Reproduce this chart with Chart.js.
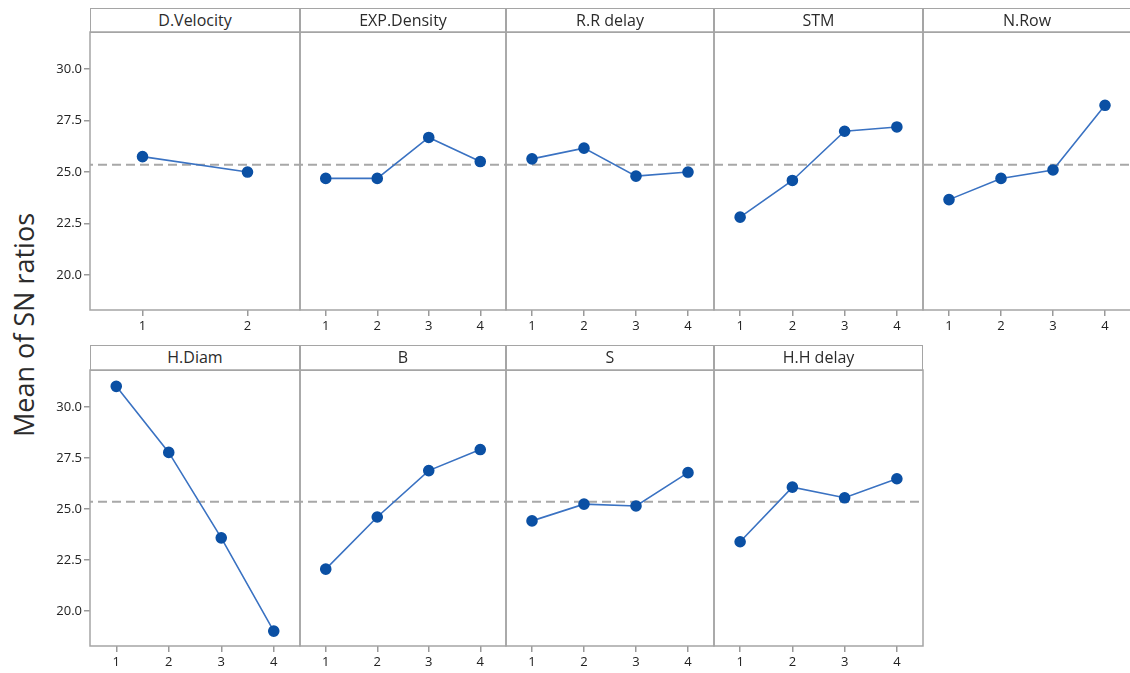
<!DOCTYPE html>
<html>
<head>
<meta charset="utf-8">
<script src="https://cdn.jsdelivr.net/npm/chart.js@4.4.1/dist/chart.umd.min.js"></script>
<style>
    body {
        margin: 0;
        width: 1130px;
        height: 673px;
        overflow: hidden;
        position: relative;
        background: #fff;
        font-family: "Open Sans", sans-serif;
    }
    .cabecera {
        position: absolute;
        box-sizing: border-box;
        border: 1.5px solid #a5a5a5;
        text-align: center;
        font-size: 16px;
        color: #2b2b2b;
        line-height: 22px;
    }
    canvas { position: absolute; }
    #titulo-y {
        position: absolute;
        left: 23px;
        top: 325px;
        transform: translate(-50%, -50%) rotate(-90deg);
        white-space: nowrap;
        font-size: 27px;
        color: #2b2b2b;
    }
</style>
</head>
<body>
<div id="titulo-y">Mean of SN ratios</div>

<script>
// Factores y niveles
const factores = ["D.Velocity", "EXP.Density", "R.R delay", "STM", "N.Row", "H.Diam", "B", "S", "H.H delay"];
const niveles2 = ["1", "2"];
const niveles4 = ["1", "2", "3", "4"];

// Medias de SN por nivel
const dVelocity = [25.75, 25.00];
const expDensity = [24.69, 24.69, 26.68, 25.51];
const rrDelay = [25.64, 26.16, 24.80, 25.00];
const stm = [22.81, 24.59, 26.98, 27.19];
const nRow = [23.66, 24.69, 25.10, 28.24];
const hDiam = [31.00, 27.77, 23.59, 19.03];
const bVals = [22.06, 24.61, 26.88, 27.91];
const sVals = [24.42, 25.24, 25.15, 26.78];
const hhDelay = [23.40, 26.07, 25.55, 26.48];

// Eje Y y media global
const ticksY = [20.0, 22.5, 25.0, 27.5, 30.0];
const mediaSN = 25.35;
const yMin = 18.3;
const yMax = 31.8;

const series = [dVelocity, expDensity, rrDelay, stm, nRow, hDiam, bVals, sVals, hhDelay];

// Posiciones de los paneles
const colIzq = [90, 300, 506, 714, 923];
const colDer = [300, 506, 714, 923, 1131];
const filas = [
    { cab: 8, top: 32, bottom: 310 },
    { cab: 345, top: 370, bottom: 646 }
];
const ANCHO_EJE_Y = 60;
const ALTO_EJE_X = 30;
const PAD = 2;

// Sin relleno automatico: el area del grafico queda donde se indica
function sinPadding(s) {
    s.paddingTop = 0;
    s.paddingBottom = 0;
    s.paddingLeft = 0;
    s.paddingRight = 0;
}

// Linea de media discontinua y marco del panel
const marcoPanel = {
    id: "marcoPanel",
    beforeDatasetsDraw(chart, args, opts) {
        const { ctx, chartArea: a, scales: { y } } = chart;
        const yp = y.getPixelForValue(mediaSN);
        ctx.save();
        ctx.strokeStyle = "#a8a8a8";
        ctx.lineWidth = 2;
        ctx.setLineDash([9, 5]);
        ctx.lineDashOffset = (opts.x0 + a.left) % 14;
        ctx.beginPath();
        ctx.moveTo(a.left, yp);
        ctx.lineTo(a.right, yp);
        ctx.stroke();
        ctx.restore();
    },
    afterDraw(chart) {
        const { ctx, chartArea: a } = chart;
        ctx.save();
        ctx.strokeStyle = "#a5a5a5";
        ctx.lineWidth = 1.5;
        ctx.strokeRect(a.left, a.top, a.right - a.left, a.bottom - a.top);
        ctx.restore();
    }
};

function crearPanel(i) {
    const fila = filas[i < 5 ? 0 : 1];
    const col = i % 5;
    const primera = col === 0;
    const valores = series[i];
    const niveles = valores.length === 2 ? niveles2 : niveles4;

    // Cabecera con el nombre del factor
    const cab = document.createElement("div");
    cab.className = "cabecera";
    cab.style.left = colIzq[col] + "px";
    cab.style.top = fila.cab + "px";
    cab.style.width = (colDer[col] - colIzq[col]) + "px";
    cab.style.height = (fila.top - fila.cab + 1) + "px";
    cab.textContent = factores[i];
    document.body.appendChild(cab);

    const x0 = primera ? colIzq[col] - ANCHO_EJE_Y : colIzq[col] - PAD;
    const ancho = colDer[col] + PAD - x0;
    const alto = fila.bottom - fila.top + PAD + ALTO_EJE_X;

    const canvas = document.createElement("canvas");
    canvas.width = ancho;
    canvas.height = alto;
    canvas.style.left = x0 + "px";
    canvas.style.top = (fila.top - PAD) + "px";
    document.body.appendChild(canvas);

    new Chart(canvas.getContext("2d"), {
        type: "line",
        data: {
            labels: niveles,
            datasets: [{
                data: valores,
                borderColor: "#3a72c2",
                borderWidth: 1.6,
                pointBackgroundColor: "#0b50a4",
                pointBorderColor: "#0b50a4",
                pointRadius: 5,
                tension: 0
            }]
        },
        options: {
            responsive: false,
            animation: false,
            devicePixelRatio: 1,
            layout: {
                autoPadding: false,
                padding: { left: primera ? 0 : PAD, right: PAD, top: PAD, bottom: 0 }
            },
            plugins: {
                legend: { display: false },
                tooltip: { enabled: false },
                marcoPanel: { x0: x0 }
            },
            scales: {
                x: {
                    type: "category",
                    offset: true,
                    grid: {
                        offset: false,
                        drawOnChartArea: false,
                        tickLength: 6,
                        color: "#9a9a9a",
                        lineWidth: 1.5
                    },
                    border: { display: false },
                    ticks: {
                        color: "#222",
                        padding: 2,
                        maxRotation: 0,
                        font: { family: "Open Sans", size: 13 }
                    },
                    afterFit(s) {
                        s.height = ALTO_EJE_X;
                        sinPadding(s);
                    }
                },
                y: {
                    display: primera,
                    min: yMin,
                    max: yMax,
                    grid: {
                        drawOnChartArea: false,
                        tickLength: 6,
                        color: "#9a9a9a",
                        lineWidth: 1.5
                    },
                    border: { display: false },
                    ticks: {
                        color: "#222",
                        padding: 2,
                        font: { family: "Open Sans", size: 13 },
                        callback: v => Number(v).toFixed(1)
                    },
                    afterBuildTicks(s) { s.ticks = ticksY.map(v => ({ value: v })); },
                    afterFit(s) {
                        s.width = primera ? ANCHO_EJE_Y : 0;
                        sinPadding(s);
                    }
                }
            }
        },
        plugins: [marcoPanel]
    });
}

factores.forEach((f, i) => crearPanel(i));
</script>
</body>
</html>
